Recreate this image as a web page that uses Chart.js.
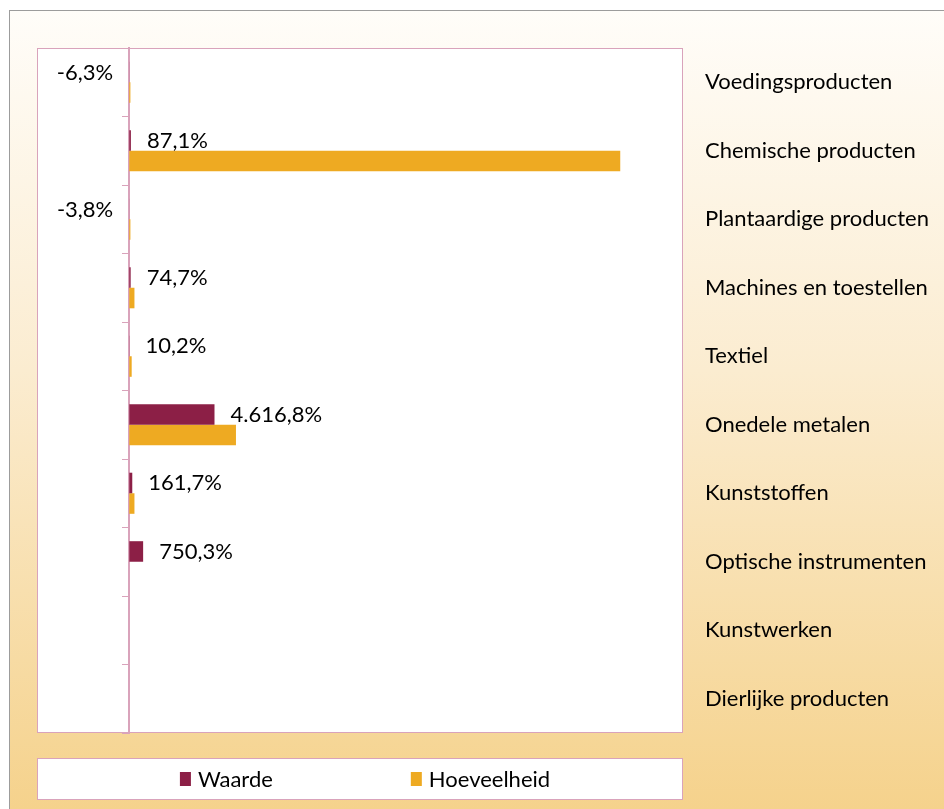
<!DOCTYPE html>
<html>
<head>
<meta charset="utf-8">
<script src="https://cdn.jsdelivr.net/npm/chart.js@4.4.1/dist/chart.umd.min.js"></script>
<style>
  html, body { margin: 0; padding: 0; background: #fff; }
  #frame {
    position: absolute; left: 9px; top: 10px; width: 935px; height: 799px;
    border-top: 1px solid #9c9c9c; border-left: 1px solid #9c9c9c;
    background: linear-gradient(to bottom, #fffdf9 0%, #fbecd0 45%, #f5d28c 100%);
  }
  #chart { position: absolute; left: 0; top: 0; }
</style>
</head>
<body>
<div id="frame"></div>
<canvas id="chart" width="944" height="809"></canvas>
<script>
// categories (top to bottom)
var categories = [
  'Voedingsproducten',
  'Chemische producten',
  'Plantaardige producten',
  'Machines en toestellen',
  'Textiel',
  'Onedele metalen',
  'Kunststoffen',
  'Optische instrumenten',
  'Kunstwerken',
  'Dierlijke producten'
];
// growth in %
var waarde = [-6.3, 87.1, -3.8, 74.7, 10.2, 4616.8, 161.7, 750.3, null, null];
var hoeveelheid = [60, 26600, 60, 280, 130, 5780, 280, null, null, null];

var FONT = { family: 'Lato', size: 22 };
var PINK = '#d9a3bb';

// Dutch number style: 4.616,8%
function fmt(v) {
  var parts = Math.abs(v).toFixed(1).split('.');
  var whole = parts[0].replace(/\B(?=(\d{3})+(?!\d))/g, '.');
  return (v < 0 ? '-' : '') + whole + ',' + parts[1] + '%';
}

var boxPlugin = {
  id: 'boxPlugin',
  beforeDraw: function (chart) {
    var ctx = chart.ctx, a = chart.chartArea;
    ctx.save();
    ctx.fillStyle = '#fff';
    ctx.fillRect(a.left, a.top, a.width, a.height);
    ctx.strokeStyle = PINK;
    ctx.lineWidth = 1;
    ctx.strokeRect(a.left + 0.5, a.top + 0.5, a.width - 1, a.height - 1);
    ctx.restore();
  },
  afterDatasetsDraw: function (chart) {
    var ctx = chart.ctx;
    var meta = chart.getDatasetMeta(0);
    ctx.save();
    ctx.font = FONT.size + 'px ' + FONT.family;
    ctx.fillStyle = '#000';
    ctx.textBaseline = 'middle';
    meta.data.forEach(function (bar, i) {
      var v = waarde[i];
      if (v === null) return;
      if (v < 0) {
        ctx.textAlign = 'right';
        ctx.fillText(fmt(v), bar.x - 16, bar.y + 1);
      } else {
        ctx.textAlign = 'left';
        ctx.fillText(fmt(v), bar.x + 16, bar.y);
      }
    });
    ctx.restore();
  },
  afterDraw: function (chart) {
    // legend in a white box under the plot
    var ctx = chart.ctx, a = chart.chartArea;
    var lx = a.left, ly = a.bottom + 25, lw = a.width, lh = 42;
    ctx.save();
    ctx.fillStyle = '#fff';
    ctx.fillRect(lx, ly, lw, lh);
    ctx.strokeStyle = PINK;
    ctx.strokeRect(lx + 0.5, ly + 0.5, lw - 1, lh - 1);
    ctx.font = FONT.size + 'px ' + FONT.family;
    ctx.textBaseline = 'middle';
    ctx.textAlign = 'left';
    var sets = chart.data.datasets;
    var widths = sets.map(function (d) { return 18 + ctx.measureText(d.label).width; });
    var gap = 138;
    var x = lx + lw / 2 + 5 - (widths[0] + gap + widths[1]) / 2;
    var cy = ly + lh / 2;
    sets.forEach(function (d, i) {
      ctx.fillStyle = d.backgroundColor;
      ctx.fillRect(x, cy - 7, 11, 14);
      ctx.fillStyle = '#000';
      ctx.fillText(d.label, x + 18, cy + 1);
      x += widths[i] + gap;
    });
    ctx.restore();
  }
};

var ctx = document.getElementById('chart').getContext('2d');
var myChart = new Chart(ctx, {
  type: 'bar',
  data: {
    labels: categories,
    datasets: [{
      label: 'Waarde',
      data: waarde,
      backgroundColor: '#8c1f46',
      xAxisID: 'x',
      yAxisID: 'y',
      categoryPercentage: 0.6,
      barPercentage: 1.0
    }, {
      label: 'Hoeveelheid',
      data: hoeveelheid,
      backgroundColor: '#eeaa22',
      xAxisID: 'x',
      yAxisID: 'y',
      categoryPercentage: 0.6,
      barPercentage: 1.0
    }]
  },
  options: {
    indexAxis: 'y',
    responsive: false,
    animation: false,
    layout: { padding: { left: 37, top: 48, right: 0, bottom: 76 } },
    plugins: {
      legend: { display: false },
      tooltip: { enabled: false }
    },
    scales: {
      x: { type: 'linear', display: false, min: -5000, max: 30000 },
      y: {
        type: 'category',
        position: { x: 0 },
        offset: true,
        ticks: { display: false },
        grid: { offset: true, drawOnChartArea: false, drawTicks: true, tickLength: 6, color: PINK },
        border: { color: PINK, width: 2 }
      },
      y2: {
        type: 'category',
        labels: categories,
        position: 'right',
        offset: true,
        grid: { display: false },
        border: { display: false },
        ticks: { color: '#000', font: FONT, padding: 14 },
        afterFit: function (scale) { scale.width = 261; }
      }
    }
  },
  plugins: [boxPlugin]
});
</script>
</body>
</html>
